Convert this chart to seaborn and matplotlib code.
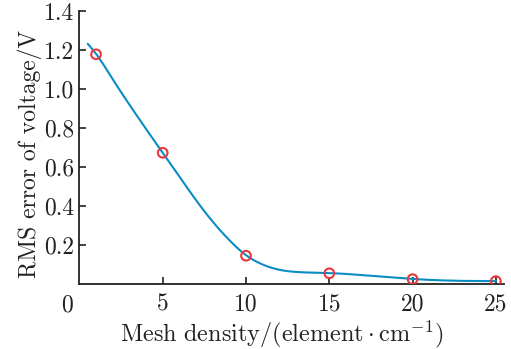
import numpy as np
import matplotlib
matplotlib.use("Agg")
import matplotlib.pyplot as plt
import seaborn as sns

# Measured RMS error at each mesh density
density = [1, 5, 10, 15, 20, 25]
rms_error = [1.178, 0.673, 0.145, 0.055, 0.025, 0.015]

# Fitted trend curve, sampled along the density axis
fit_density = [0.5, 1, 2, 3, 4, 5, 6, 7, 8, 9, 10, 11, 12, 13, 15, 17.5, 20, 22, 25]
fit_error = [1.232, 1.180, 1.050, 0.920, 0.795, 0.673, 0.550, 0.430, 0.320,
             0.225, 0.148, 0.100, 0.073, 0.062, 0.056, 0.042, 0.026, 0.018, 0.015]

x_ticks = [5, 10, 15, 20, 25]
y_ticks = [0.2, 0.4, 0.6, 0.8, 1.0, 1.2, 1.4]


def natural_spline(xk, yk, xs):
    """Natural cubic spline through the knots (xk, yk), evaluated at xs."""
    xk = np.asarray(xk, float)
    yk = np.asarray(yk, float)
    n = len(xk)
    h = np.diff(xk)
    A = np.zeros((n, n))
    b = np.zeros(n)
    A[0, 0] = A[-1, -1] = 1.0
    for i in range(1, n - 1):
        A[i, i - 1] = h[i - 1]
        A[i, i] = 2 * (h[i - 1] + h[i])
        A[i, i + 1] = h[i]
        b[i] = 3 * ((yk[i + 1] - yk[i]) / h[i] - (yk[i] - yk[i - 1]) / h[i - 1])
    c = np.linalg.solve(A, b)
    idx = np.clip(np.searchsorted(xk, xs) - 1, 0, n - 2)
    dx = xs - xk[idx]
    bi = (yk[idx + 1] - yk[idx]) / h[idx] - h[idx] * (2 * c[idx] + c[idx + 1]) / 3
    di = (c[idx + 1] - c[idx]) / (3 * h[idx])
    return yk[idx] + bi * dx + c[idx] * dx ** 2 + di * dx ** 3


sns.set_style("ticks")
plt.rcParams["font.family"] = "serif"
plt.rcParams["font.serif"] = ["cmr10", "DejaVu Serif"]
plt.rcParams["mathtext.fontset"] = "cm"
plt.rcParams["axes.formatter.use_mathtext"] = True
plt.rcParams["axes.unicode_minus"] = False

fig = plt.figure(figsize=(5.11, 3.49), dpi=100)
ax = fig.add_axes([0.1554, 0.1862, 0.9867 - 0.1554, 0.9685 - 0.1862])

xs = np.linspace(fit_density[0], fit_density[-1], 400)
ys = natural_spline(fit_density, fit_error, xs)
sns.lineplot(x=xs, y=ys, ax=ax, color="#0a8cc4", linewidth=1.5)
sns.scatterplot(x=density, y=rms_error, ax=ax, marker="o", s=48,
                facecolor="none", edgecolor="#e8383d", linewidth=1.5, zorder=3)

ax.set_xlim(0, 25.5)
ax.set_ylim(0, 1.4)
ax.set_xticks(x_ticks)
ax.set_xticklabels([str(t) for t in x_ticks])
ax.set_yticks(y_ticks)
ax.set_yticklabels([f"{t:.1f}" for t in y_ticks])
ax.tick_params(direction="in", length=5, width=1.2, labelsize=17, colors="#222222")
ax.tick_params(axis="x", pad=7)
ax.tick_params(axis="y", pad=4)

# Shared origin label
ax.annotate("0", xy=(0, 0), xycoords="data", xytext=(-5, -7.3),
            textcoords="offset points", ha="right", va="top",
            fontsize=17, color="#222222")

for side in ("top", "right"):
    ax.spines[side].set_visible(False)
for side in ("left", "bottom"):
    ax.spines[side].set_linewidth(1.3)
    ax.spines[side].set_color("#222222")

ax.set_xlabel(r"$\mathrm{Mesh\ density/(element}\cdot\mathrm{cm}^{-1})$",
              fontsize=17.5, color="#222222", labelpad=2)
ax.xaxis.label.set_x(0.476)
ax.set_ylabel("RMS error of voltage/V", fontsize=17, color="#222222", labelpad=1.5)
ax.yaxis.label.set_y(0.475)

fig.savefig("out.png", dpi=100)
